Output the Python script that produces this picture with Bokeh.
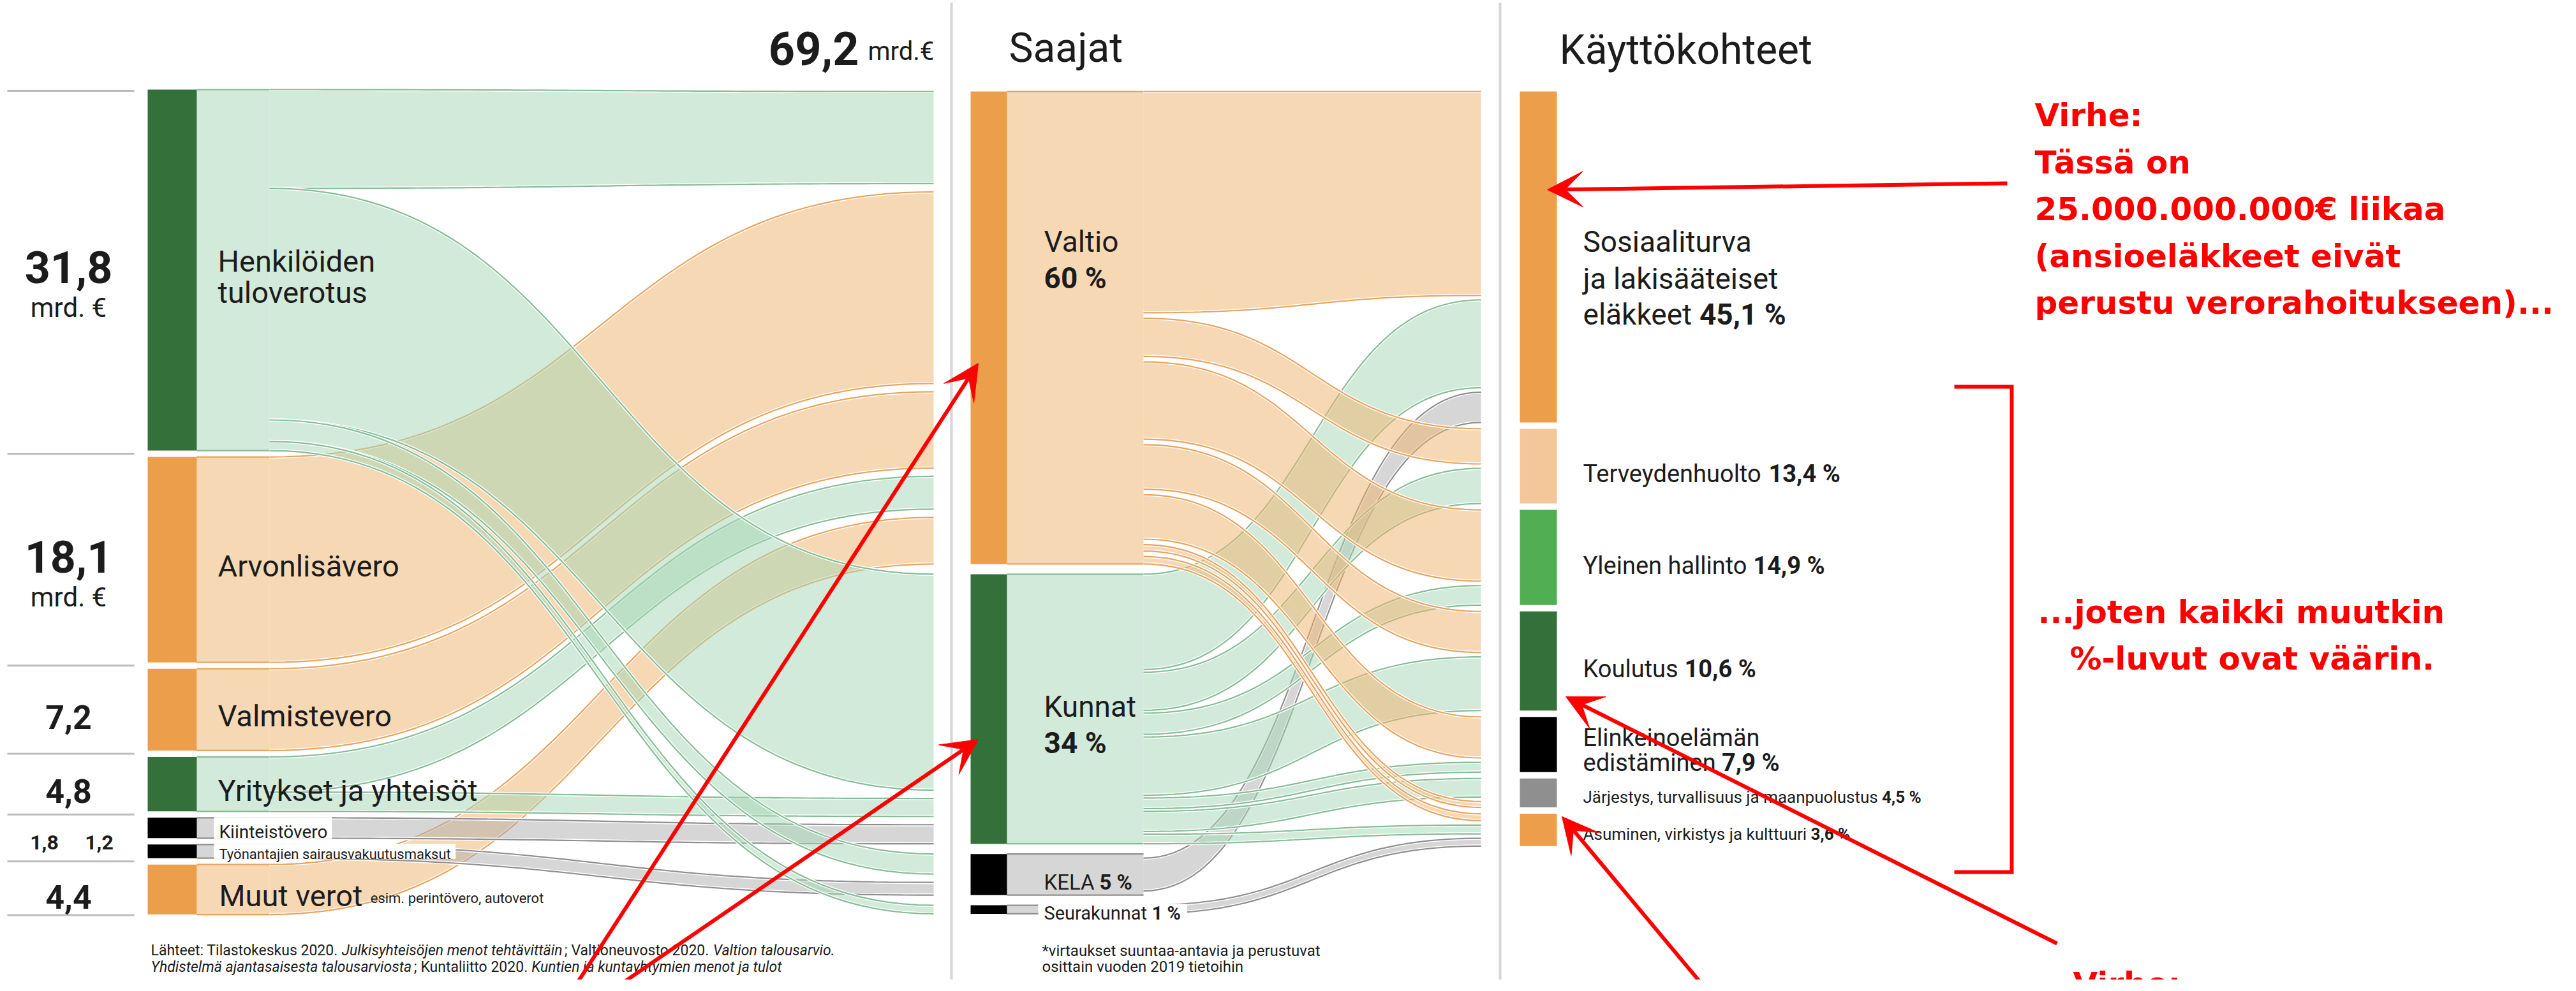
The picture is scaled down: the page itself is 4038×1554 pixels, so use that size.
import numpy as np
from bokeh.plotting import figure
from bokeh.models import Range1d, Arrow, VeeHead
from bokeh.core.properties import value
from bokeh.embed import file_html
from bokeh.resources import INLINE

# ---------------- data (mrd. €) ----------------
total_mrd = 69.2
sources = ["Henkilöiden tuloverotus", "Arvonlisävero", "Valmistevero",
           "Yritykset ja yhteisöt", "Kiinteistövero",
           "Työnantajien sairausvakuutusmaksut", "Muut verot"]
source_values = [31.8, 18.1, 7.2, 4.8, 1.8, 1.2, 4.4]
source_kind = ["green", "orange", "orange", "green", "gray", "gray", "orange"]

recipients = ["Valtio", "Kunnat", "KELA", "Seurakunnat"]
recipient_pct = [60, 34, 5, 1]
recipient_kind = ["orange", "green", "gray", "gray"]

uses = ["Sosiaaliturva ja lakisääteiset eläkkeet", "Terveydenhuolto", "Yleinen hallinto",
        "Koulutus", "Elinkeinoelämän edistäminen",
        "Järjestys, turvallisuus ja maanpuolustus", "Asuminen, virkistys ja kulttuuri"]
use_pct = [45.1, 13.4, 14.9, 10.6, 7.9, 4.5, 3.6]

# taxes -> recipients
flow1_src = [0, 1, 2, 3, 6, 0, 3, 4, 0, 5, 0]
flow1_dst = [0, 0, 0, 0, 0, 1, 1, 1, 2, 2, 3]
flow1_val = [8.7, 18.1, 7.2, 3.1, 4.4, 20.4, 1.7, 1.8, 1.9, 1.2, 0.8]

# recipients -> uses
flow2_src = [0, 1, 2, 0, 1, 0, 1, 0, 1, 0, 1, 1, 0, 0, 1, 3]
flow2_dst = [0, 0, 0, 1, 1, 2, 2, 3, 3, 4, 4, 5, 5, 6, 6, 6]
flow2_val = [20.9, 9.0, 3.1, 3.6, 3.6, 7.3, 2.0, 4.2, 5.5, 4.2, 1.0, 1.9, 0.6, 0.7, 0.9, 0.8]

# ---------------- style ----------------
INK = "#1c1c1c"
BAR = {"green": "#33703a", "orange": "#ec9e4b", "gray": "#000000"}
FILL = {"green": "#a5d5b3", "orange": "#efb16b", "gray": "#adadad"}
EDGE = {"green": "#86bd96", "orange": "#e9a35e", "gray": "#8f8f8f"}
use_colors = ["#ec9e4b", "#f3c799", "#52ae52", "#33703a", "#000000", "#8f8f8f", "#ec9e4b"]
RED = "#ff0000"

RW = {'a': .544, 'b': .561, 'c': .523, 'd': .564, 'e': .530, 'f': .347, 'g': .561, 'h': .551,
      'i': .243, 'j': .239, 'k': .507, 'l': .243, 'm': .876, 'n': .552, 'o': .570, 'p': .561,
      'q': .568, 'r': .338, 's': .516, 't': .327, 'u': .551, 'v': .484, 'w': .751, 'x': .496,
      'y': .473, 'z': .496, 'ä': .544, 'ö': .570, 'A': .652, 'B': .624, 'C': .651, 'D': .656,
      'E': .568, 'F': .553, 'G': .682, 'H': .713, 'I': .272, 'J': .552, 'K': .627, 'L': .538,
      'M': .873, 'N': .713, 'O': .688, 'P': .631, 'R': .616, 'S': .593, 'T': .597, 'U': .648,
      'V': .636, 'W': .887, 'Y': .601, ' ': .248, ',': .196, '.': .263, ':': .242, ';': .212,
      '%': .733, '-': .276, '*': .431, '€': .561, '(': .342, ')': .348}


def tw(s, size, bold=False):
    w = sum(RW.get(ch, .561 if ch.isdigit() else .55) for ch in s)
    return w * size * (1.05 if bold else 1.0)


def fmt(v):
    return f"{v:.1f}".replace(".", ",")


W, H = 4020, 1536
p = figure(width=W, height=H, x_range=Range1d(8, 8 + W), y_range=Range1d(8 + H, 8),
           output_backend="svg", toolbar_location=None, min_border=0,
           x_axis_location=None, y_axis_location=None)
p.grid.visible = False
p.outline_line_color = None
p.background_fill_color = "white"
p.border_fill_color = "white"


def txt(x, y, s, size, font="Roboto", style="normal", color=INK, align="left"):
    p.text(x=[x], y=[y - 0.15 * size], text=[s], text_font=value(font), text_font_size=f"{size}px",
           text_font_style=style, text_color=color, text_align=align, text_baseline="alphabetic")


def bez(a, b, t):
    return (1 - t) ** 3 * a + 3 * (1 - t) ** 2 * t * a + 3 * (1 - t) * t ** 2 * b + t ** 3 * b


def edges(xs, tops, bots, kind, halo=True):
    if halo:
        p.multi_line([list(xs), list(xs)], [list(tops), list(bots)], line_color="white", line_width=5)
    p.multi_line([list(xs), list(xs)], [list(tops), list(bots)], line_color=EDGE[kind], line_width=2.2)


def draw_band(x0, a0, b0, x1, a1, b1, kind):
    t = np.linspace(0, 1, 64)
    xm = (x0 + x1) / 2
    bx = (1 - t) ** 3 * x0 + 3 * (1 - t) ** 2 * t * xm + 3 * (1 - t) * t ** 2 * xm + t ** 3 * x1
    top, bot = bez(a0, a1, t), bez(b0, b1, t)
    p.patch(np.concatenate([bx, bx[::-1]]), np.concatenate([top, bot[::-1]]),
            fill_color=FILL[kind], fill_alpha=0.5, line_color=None)
    edges(bx, top, bot, kind)


def draw_block(x0, x1, top, bot, kind):
    p.quad(left=[x0], right=[x1], top=[top], bottom=[bot], fill_color=FILL[kind], fill_alpha=0.5, line_color=None)
    edges([x0, x1], [top, top], [bot, bot], kind, halo=False)


# ---------------- layout ----------------
XS = (239, 316); XM = (1529, 1586); XR = (2390, 2448)
SPLIT1, SPLIT2 = 430, 1800
X1_END, X2_END = 1471, 2329
K_SRC, GAP_SRC = 17.8, 10
K1, G1_IN, G1_OUT = 16.6, 13, 16
K2, G2_IN, G2_OUT = 15.3, 7, 10
TOP = 148
TOP2 = 151

src_top, src_bot = [], []
y = TOP
for v in source_values:
    src_top.append(y); src_bot.append(y + v * K_SRC); y += v * K_SRC + GAP_SRC

n1 = len(flow1_val)
a0 = [0] * n1; b0 = [0] * n1; a1 = [0] * n1; b1 = [0] * n1
for s in range(len(sources)):
    y = src_top[s]
    for i in sorted([i for i in range(n1) if flow1_src[i] == s], key=lambda i: flow1_dst[i]):
        a0[i] = y; y += flow1_val[i] * K_SRC; b0[i] = y

rec_top = [1e9] * len(recipients); rec_bot = [0] * len(recipients)
y = TOP2; prev = None
for i in sorted(range(n1), key=lambda i: flow1_dst[i]):
    d = flow1_dst[i]
    if prev is not None:
        y += G1_IN if d == prev else G1_OUT
    a1[i] = y; y += flow1_val[i] * K1; b1[i] = y
    rec_top[d] = min(rec_top[d], a1[i]); rec_bot[d] = max(rec_bot[d], b1[i])
    prev = d

n2 = len(flow2_val)
c0 = [0] * n2; d0 = [0] * n2; c1 = [0] * n2; d1 = [0] * n2
for r in range(len(recipients)):
    idx = sorted([i for i in range(n2) if flow2_src[i] == r], key=lambda i: flow2_dst[i])
    tot = sum(flow2_val[i] * K1 for i in idx)
    span = rec_bot[r] - rec_top[r]
    gap = (span - tot) / (len(idx) - 1) if len(idx) > 1 else 0
    y = rec_top[r] if len(idx) > 1 else rec_top[r] + (span - tot) / 2
    for i in idx:
        c0[i] = y; y += flow2_val[i] * K1; d0[i] = y; y += gap

use_top = [1e9] * len(uses); use_bot = [0] * len(uses)
y = TOP2; prev = None
for i in sorted(range(n2), key=lambda i: flow2_dst[i]):
    d = flow2_dst[i]
    if prev is not None:
        y += G2_IN if d == prev else G2_OUT
    c1[i] = y; y += flow2_val[i] * K2; d1[i] = y
    use_top[d] = min(use_top[d], c1[i]); use_bot[d] = max(use_bot[d], d1[i])
    prev = d

# ---------------- panels ----------------
p.segment(x0=[1499, 2359], y0=[12, 12], x1=[1499, 2359], y1=[1560, 1560], line_color="#d6d6d6", line_width=4)

for s in range(len(sources)):
    draw_block(XS[1], SPLIT1, src_top[s], src_bot[s], source_kind[s])
for i in range(n1):
    draw_band(SPLIT1, a0[i], b0[i], X1_END, a1[i], b1[i], source_kind[flow1_src[i]])
for r in range(len(recipients)):
    draw_block(XM[1], SPLIT2, rec_top[r], rec_bot[r], recipient_kind[r])
for i in range(n2):
    draw_band(SPLIT2, c0[i], d0[i], X2_END, c1[i], d1[i], recipient_kind[flow2_src[i]])

p.quad(left=[XS[0]] * len(sources), right=[XS[1]] * len(sources), top=src_top, bottom=src_bot,
       fill_color=[BAR[k] for k in source_kind], line_color=None)
p.quad(left=[XM[0]] * len(recipients), right=[XM[1]] * len(recipients), top=rec_top, bottom=rec_bot,
       fill_color=[BAR[k] for k in recipient_kind], line_color=None)
p.quad(left=[XR[0]] * len(uses), right=[XR[1]] * len(uses), top=use_top, bottom=use_bot,
       fill_color=use_colors, line_color=None)

# ---------------- left labels ----------------
groups = [[0], [1], [2], [3], [4, 5], [6]]
sep_y = [src_top[0] + 2]
for g, h in zip(groups[:-1], groups[1:]):
    sep_y.append((src_bot[g[-1]] + src_top[h[0]]) / 2)
sep_y.append(src_bot[-1] + 1)
p.segment(x0=[19] * len(sep_y), y0=sep_y, x1=[218] * len(sep_y), y1=sep_y, line_color="#bdbdbd", line_width=3)

for gi, g in enumerate(groups):
    c = (src_top[g[0]] + src_bot[g[-1]]) / 2
    if gi < 2:
        txt(115, c + 6, fmt(source_values[g[0]]), 70, style="bold", align="center")
        txt(115, c + 65, "mrd. €", 42, align="center")
    elif len(g) == 2:
        txt(77, c + 12, fmt(source_values[g[0]]), 32, style="bold", align="center")
        txt(163, c + 12, fmt(source_values[g[1]]), 32, style="bold", align="center")
    else:
        txt(115, c + 19, fmt(source_values[g[0]]), 52, style="bold", align="center")

LX = 349
cH = (src_top[0] + src_bot[0]) / 2
txt(LX, cH - 7, "Henkilöiden", 47)
txt(LX, cH + 42, "tuloverotus", 47)
for s in (1, 2, 3):
    txt(LX, (src_top[s] + src_bot[s]) / 2 + 17, sources[s], 47)
cM = (src_top[6] + src_bot[6]) / 2
txt(LX + 2, cM + 17, "Muut verot", 47)
txt(LX + 2 + tw("Muut verot ", 47), cM + 17, "esim. perintövero, autoverot", 22)
for s, size in ((4, 28), (5, 22)):
    c = (src_top[s] + src_bot[s]) / 2
    p.quad(left=[343], right=[LX + 2 + tw(sources[s], size) + 6], top=[src_top[s] - 1], bottom=[src_bot[s] + 1],
           fill_color="white", line_color=None)
    txt(LX + 2, c + 0.36 * size, sources[s], size)

txt(1354, 94, fmt(total_mrd), 72, style="bold", align="right")
txt(1368, 94, "mrd.€", 40)

# ---------------- middle labels ----------------
txt(1589, 93, "Saajat", 64)
MX = 1644
txt(MX, rec_top[0] + 242, recipients[0], 46)
txt(MX, rec_top[0] + 299, f"{recipient_pct[0]} %", 46, style="bold")
txt(MX, rec_top[1] + 214, recipients[1], 46)
txt(MX, rec_top[1] + 271, f"{recipient_pct[1]} %", 46, style="bold")
cK = (rec_top[2] + rec_bot[2]) / 2
txt(MX, cK + 17, recipients[2], 33)
txt(MX + tw(recipients[2] + " ", 33), cK + 17, f"{recipient_pct[2]} %", 33, style="bold")
cS = (rec_top[3] + rec_bot[3]) / 2
wS = tw(recipients[3] + " ", 29) + tw(f"{recipient_pct[3]} %", 29, True)
p.quad(left=[MX - 9], right=[MX + wS + 8], top=[rec_top[3] - 2], bottom=[rec_bot[3] + 2], fill_color="white", line_color=None)
txt(MX, cS + 10, recipients[3], 29)
txt(MX + tw(recipients[3] + " ", 29), cS + 10, f"{recipient_pct[3]} %", 29, style="bold")

txt(1641, 1502, "*virtaukset suuntaa-antavia ja perustuvat", 24)
txt(1641, 1527, "osittain vuoden 2019 tietoihin", 24)

# ---------------- right labels ----------------
txt(2452, 96, "Käyttökohteet", 64)
RX = 2489
cu = [(use_top[u] + use_bot[u]) / 2 for u in range(len(uses))]
pct = [fmt(v) + " %" for v in use_pct]
txt(RX, cu[0] - 17, "Sosiaaliturva", 46)
txt(RX, cu[0] + 41, "ja lakisääteiset", 46)
txt(RX, cu[0] + 97, "eläkkeet", 46)
txt(RX + tw("eläkkeet ", 46), cu[0] + 97, pct[0], 46, style="bold")
for u in (1, 2, 3):
    txt(RX, cu[u] + 18, uses[u], 38)
    txt(RX + tw(uses[u] + " ", 38), cu[u] + 18, pct[u], 38, style="bold")
txt(RX, cu[4] - 5, "Elinkeinoelämän", 38)
txt(RX, cu[4] + 34, "edistäminen", 38)
txt(RX + tw("edistäminen ", 38), cu[4] + 34, pct[4], 38, style="bold")
for u in (5, 6):
    txt(RX, cu[u] + 10, uses[u], 26)
    txt(RX + tw(uses[u] + " ", 26), cu[u] + 10, pct[u], 26, style="bold")


# ---------------- sources text ----------------
def seq(x, y, parts, size):
    for s, st in parts:
        txt(x, y, s, size, style=st)
        x += tw(s, size) * (1.0 if st == "normal" else 0.98)


seq(244, 1501, [("Lähteet: Tilastokeskus 2020. ", "normal"), ("Julkisyhteisöjen menot tehtävittäin", "italic"),
                ("; Valtioneuvosto 2020. ", "normal"), ("Valtion talousarvio.", "italic")], 23)
seq(244, 1527, [("Yhdistelmä ajantasaisesta talousarviosta", "italic"), ("; Kuntaliitto 2020. ", "normal"),
                ("Kuntien ja kuntayhtymien menot ja tulot", "italic")], 23)

# ---------------- red annotations ----------------
red_block = ["Virhe:", "Tässä on", "25.000.000.000€ liikaa", "(ansioeläkkeet eivät",
             "perustu verorahoitukseen)..."]
for i, s in enumerate(red_block):
    txt(3197, 196 + 73.5 * i, s, 50, font="DejaVu Sans", style="bold", color=RED)
txt(3202, 975, "...joten kaikki muutkin", 50, font="DejaVu Sans", style="bold", color=RED)
txt(3252, 1048, "%-luvut ovat väärin.", 50, font="DejaVu Sans", style="bold", color=RED)
txt(3257, 1558, "Virhe:", 50, font="DejaVu Sans", style="bold", color=RED)

p.line([3071, 3161, 3161, 3071], [614, 614, 1375, 1375], line_color=RED, line_width=6, line_join="miter")

for (xs_, ys_, xe, ye) in [(909, 1554, 1541, 577), (976, 1554, 1541, 1167), (3154, 295, 2433, 305),
                           (3232, 1487, 2462, 1100), (2683, 1560, 2456, 1288)]:
    p.add_layout(Arrow(end=VeeHead(size=56, fill_color=RED, line_color=RED, line_width=1),
                       x_start=xs_, y_start=ys_, x_end=xe, y_end=ye, line_color=RED, line_width=6))

open("out.html", "w").write(file_html(p, INLINE))
